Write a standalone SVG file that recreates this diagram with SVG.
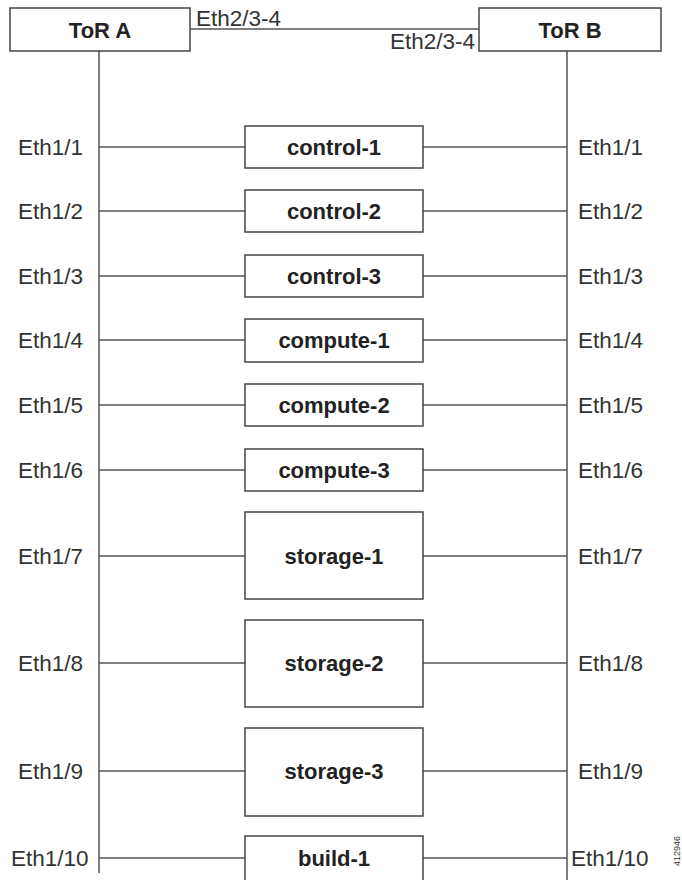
<svg xmlns="http://www.w3.org/2000/svg" width="682" height="880" viewBox="0 0 682 880">
<style>
.box{fill:#fff;stroke:#444;stroke-width:1.5}
.ln{stroke:#555;stroke-width:1.5;fill:none}
.t{font-family:"Liberation Sans",Arial,sans-serif;font-size:22px;font-weight:bold;fill:#222;text-anchor:middle}
.p{font-family:"Liberation Sans",Arial,sans-serif;font-size:22.5px;fill:#333}
.pr{font-family:"Liberation Sans",Arial,sans-serif;font-size:22.5px;fill:#333;text-anchor:end}
</style>
<rect width="682" height="880" fill="#fff"/>
<g id="connectors">
<line class="ln" x1="190" y1="29" x2="479" y2="29"/>
<line class="ln" x1="99" y1="51" x2="99" y2="873"/>
<line class="ln" x1="567" y1="51" x2="567" y2="880"/>
<line class="ln" x1="99" y1="147" x2="245" y2="147"/><line class="ln" x1="423" y1="147" x2="567" y2="147"/>
<line class="ln" x1="99" y1="211" x2="245" y2="211"/><line class="ln" x1="423" y1="211" x2="567" y2="211"/>
<line class="ln" x1="99" y1="276" x2="245" y2="276"/><line class="ln" x1="423" y1="276" x2="567" y2="276"/>
<line class="ln" x1="99" y1="340" x2="245" y2="340"/><line class="ln" x1="423" y1="340" x2="567" y2="340"/>
<line class="ln" x1="99" y1="405" x2="245" y2="405"/><line class="ln" x1="423" y1="405" x2="567" y2="405"/>
<line class="ln" x1="99" y1="470" x2="245" y2="470"/><line class="ln" x1="423" y1="470" x2="567" y2="470"/>
<line class="ln" x1="99" y1="556" x2="245" y2="556"/><line class="ln" x1="423" y1="556" x2="567" y2="556"/>
<line class="ln" x1="99" y1="663" x2="245" y2="663"/><line class="ln" x1="423" y1="663" x2="567" y2="663"/>
<line class="ln" x1="99" y1="771" x2="245" y2="771"/><line class="ln" x1="423" y1="771" x2="567" y2="771"/>
<line class="ln" x1="99" y1="858" x2="245" y2="858"/><line class="ln" x1="423" y1="858" x2="567" y2="858"/>
<text class="p" x="196" y="26">Eth2/3-4</text>
<text class="pr" x="475" y="49">Eth2/3-4</text>
</g>
<g id="torA"><rect class="box" x="10" y="8" width="180" height="43"/><text class="t" x="100" y="38">ToR A</text></g>
<g id="torB"><rect class="box" x="479" y="8" width="182" height="43"/><text class="t" x="570" y="38">ToR B</text></g>
<g id="control-1"><rect class="box" x="245" y="126" width="178" height="42"/><text class="t" x="334" y="155">control-1</text></g>
<g id="control-2"><rect class="box" x="245" y="190" width="178" height="42"/><text class="t" x="334" y="219">control-2</text></g>
<g id="control-3"><rect class="box" x="245" y="255" width="178" height="42"/><text class="t" x="334" y="284">control-3</text></g>
<g id="compute-1"><rect class="box" x="245" y="319" width="178" height="43"/><text class="t" x="334" y="348">compute-1</text></g>
<g id="compute-2"><rect class="box" x="245" y="384" width="178" height="42"/><text class="t" x="334" y="413">compute-2</text></g>
<g id="compute-3"><rect class="box" x="245" y="449" width="178" height="42"/><text class="t" x="334" y="478">compute-3</text></g>
<g id="storage-1"><rect class="box" x="245" y="512" width="178" height="87"/><text class="t" x="334" y="564">storage-1</text></g>
<g id="storage-2"><rect class="box" x="245" y="620" width="178" height="87"/><text class="t" x="334" y="671">storage-2</text></g>
<g id="storage-3"><rect class="box" x="245" y="728" width="178" height="88"/><text class="t" x="334" y="779">storage-3</text></g>
<g id="build-1"><rect class="box" x="245" y="836" width="178" height="50"/><text class="t" x="334" y="866">build-1</text></g>
<g id="labels-left">
<text class="p" x="18" y="155">Eth1/1</text>
<text class="p" x="18" y="219">Eth1/2</text>
<text class="p" x="18" y="284">Eth1/3</text>
<text class="p" x="18" y="348">Eth1/4</text>
<text class="p" x="18" y="413">Eth1/5</text>
<text class="p" x="18" y="478">Eth1/6</text>
<text class="p" x="18" y="564">Eth1/7</text>
<text class="p" x="18" y="671">Eth1/8</text>
<text class="p" x="18" y="779">Eth1/9</text>
<text class="p" x="11" y="866">Eth1/10</text>
</g>
<g id="labels-right">
<text class="p" x="578" y="155">Eth1/1</text>
<text class="p" x="578" y="219">Eth1/2</text>
<text class="p" x="578" y="284">Eth1/3</text>
<text class="p" x="578" y="348">Eth1/4</text>
<text class="p" x="578" y="413">Eth1/5</text>
<text class="p" x="578" y="478">Eth1/6</text>
<text class="p" x="578" y="564">Eth1/7</text>
<text class="p" x="578" y="671">Eth1/8</text>
<text class="p" x="578" y="779">Eth1/9</text>
<text class="p" x="571" y="866">Eth1/10</text>
</g>
<text font-family="Liberation Sans,Arial,sans-serif" font-size="9" fill="#333" transform="translate(680,866) rotate(-90)">412946</text>
</svg>
